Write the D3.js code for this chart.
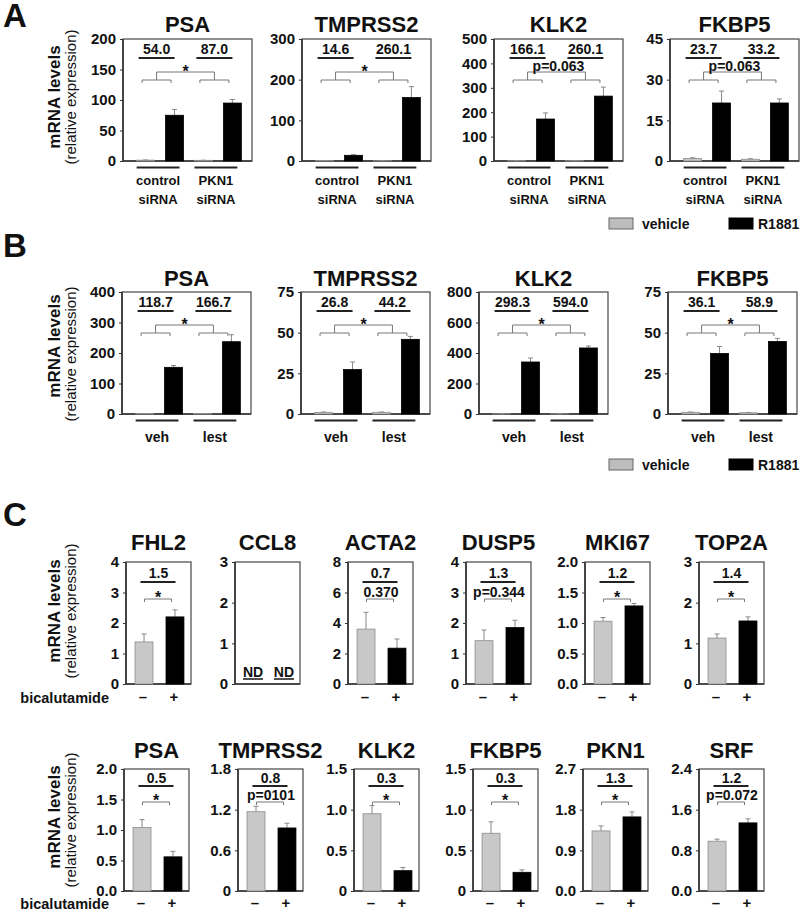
<!DOCTYPE html>
<html><head><meta charset="utf-8">
<script src="https://cdn.jsdelivr.net/npm/d3@7"></script>
<style>body{margin:0;background:#fff} svg{display:block} text{font-family:"Liberation Sans",Arial,Helvetica,sans-serif}</style>
</head><body><svg id="c" width="800" height="910"></svg>
<script>
// ---------- DATA ----------
// Panel A (siRNA)
const genesA = ["PSA","TMPRSS2","KLK2","FKBP5"];
const groupLabelsA = [["control","siRNA"],["PKN1","siRNA"]];
const vehicleA = [[1.39,1.09],[0.96,0.60],[1.04,1.02],[0.90,0.64]];
const vehicleSdA = [[0.2,0.2],[0.1,0.1],[0.2,0.2],[0.3,0.2]];
const r1881A = [[75,95],[14,156],[172,266],[21.4,21.4]];
const r1881SdA = [[9.5,5.8],[1.5,27],[25,37],[4.4,1.5]];
const foldA = [["54.0","87.0"],["14.6","260.1"],["166.1","260.1"],["23.7","33.2"]];
const sigA = ["*","*","p=0.063","p=0.063"];
const yMaxA = [200,300,500,45];
const ticksA = [[0,50,100,150,200],[0,100,200,300],[0,100,200,300,400,500],[0,15,30,45]];
// Panel B (lestaurtinib)
const genesB = ["PSA","TMPRSS2","KLK2","FKBP5"];
const groupLabelsB = [["veh"],["lest"]];
const vehicleB = [[1.29,1.42],[1.02,1.04],[1.14,0.73],[1.03,0.76]];
const vehicleSdB = [[0.2,0.2],[0.2,0.2],[0.3,0.2],[0.2,0.2]];
const r1881B = [[153,237],[27.3,45.9],[341,433],[37.2,44.6]];
const r1881SdB = [[6,23],[4.7,1.8],[26,13],[4.3,1.9]];
const foldB = [["118.7","166.7"],["26.8","44.2"],["298.3","594.0"],["36.1","58.9"]];
const sigB = ["*","*","*","*"];
const yMaxB = [400,75,800,75];
const ticksB = [[0,100,200,300,400],[0,25,50,75],[0,200,400,600,800],[0,25,50,75]];
const legendLabels = ["vehicle","R1881"];
// Panel C row 1 (bicalutamide)
const genesC1 = ["FHL2","CCL8","ACTA2","DUSP5","MKI67","TOP2A"];
const minusC1 = [1.38,null,3.6,1.42,1.03,1.13];
const plusC1 = [2.2,null,2.35,1.85,1.28,1.55];
const minusSdC1 = [0.26,null,1.1,0.35,0.06,0.1];
const plusSdC1 = [0.23,null,0.6,0.24,0.04,0.1];
const foldC1 = ["1.5",null,"0.7","1.3","1.2","1.4"];
const sigC1 = ["*",null,"0.370","p=0.344","*","*"];
const yMaxC1 = [4,3,8,4,2,3];
const tickLabelsC1 = [["0","1","2","3","4"],["0","1","2","3"],["0","2","4","6","8"],["0","1","2","3","4"],["0.0","0.5","1.0","1.5","2.0"],["0","1","2","3"]];
// Panel C row 2
const genesC2 = ["PSA","TMPRSS2","KLK2","FKBP5","PKN1","SRF"];
const minusC2 = [1.04,1.17,0.95,0.71,1.33,0.98];
const plusC2 = [0.56,0.93,0.25,0.23,1.64,1.34];
const minusSdC2 = [0.13,0.08,0.1,0.14,0.11,0.04];
const plusSdC2 = [0.09,0.07,0.04,0.03,0.11,0.08];
const foldC2 = ["0.5","0.8","0.3","0.3","1.3","1.2"];
const sigC2 = ["*","p=0101","*","*","*","p=0.072"];
const yMaxC2 = [2.0,1.8,1.5,1.5,2.7,2.4];
const tickLabelsC2 = [["0.0","0.5","1.0","1.5","2.0"],["0","0.6","1.2","1.8"],["0","0.5","1.0","1.5"],["0","0.5","1.0","1.5"],["0.0","0.9","1.8","2.7"],["0.0","0.8","1.6","2.4"]];
const treatLabels = ["–","+"];

// ---------- STYLE / LAYOUT ----------
const GRAY = "#c8c8c8", GRAYSTROKE = "#8c8c8c", BLACK = "#000";
const svg = d3.select("#c");

function txt(g, x, y, s, size, weight, anchor) {
  return g.append("text").attr("x", x).attr("y", y).text(s)
    .attr("font-size", size).attr("font-weight", weight || "bold")
    .attr("text-anchor", anchor || "middle").attr("fill", "#111");
}
function line(g, x1, y1, x2, y2, color, w) {
  return g.append("line").attr("x1", x1).attr("y1", y1).attr("x2", x2).attr("y2", y2)
    .attr("stroke", color || "#222").attr("stroke-width", w || 1);
}
function yAxis(g, x0, y, ticks, labels) {
  const ax = g.append("g").attr("transform", `translate(${x0},0)`)
    .call(d3.axisLeft(y).tickValues(ticks).tickSize(3).tickPadding(4)
      .tickFormat((d, i) => labels ? labels[i] : d));
  ax.select(".domain").remove();
  ax.selectAll("line").attr("stroke", "#333");
  ax.attr("font-size", 15).attr("font-weight", "bold")
    .attr("font-family", '"Liberation Sans",Arial,sans-serif');
  ax.selectAll("text").attr("fill", "#111");
}
function box(g, x, top, w, h) {
  g.append("rect").attr("x", x).attr("y", top).attr("width", w).attr("height", h)
    .attr("fill", "none").attr("stroke", "#555").attr("stroke-width", 1.3);
  line(g, x, top, x, top + h, "#333", 1.6);
  line(g, x, top + h, x + w, top + h, "#333", 1.6);
}
function errBar(g, cx, y1, y2) {
  line(g, cx, y1, cx, y2, "#888", 1);
  line(g, cx - 2.5, y2, cx + 2.5, y2, "#888", 1);
}
function yLabel(cy1, cy2) {
  svg.append("text").attr("transform", `translate(60,${cy1}) rotate(-90)`)
    .attr("text-anchor", "middle").attr("font-size", 17).attr("font-weight", "bold")
    .attr("fill", "#111").text("mRNA levels");
  svg.append("text").attr("transform", `translate(76,${cy2}) rotate(-90)`)
    .attr("text-anchor", "middle").attr("font-size", 15).attr("font-weight", "normal")
    .attr("fill", "#111").text("(relative expression)");
}
function legend(y) {
  const g = svg.append("g");
  g.append("rect").attr("x", 609).attr("y", y - 11).attr("width", 24).attr("height", 11)
    .attr("fill", "#bdbdbd").attr("stroke", "#666");
  txt(g, 642, y, legendLabels[0], 14, "bold", "start");
  g.append("rect").attr("x", 729).attr("y", y - 11).attr("width", 24).attr("height", 11)
    .attr("fill", BLACK).attr("stroke", "#000");
  txt(g, 758, y, legendLabels[1], 14, "bold", "start");
}

// Panels A and B
function drawAB(P) {
  P.genes.forEach((gene, i) => {
    const g = svg.append("g");
    const x0 = P.xs[i], W = 129, top = P.top, bottom = P.bottom;
    const xb = d3.scaleBand().domain(["v0","r0","v1","r1"])
      .range([x0 + 1.5, x0 + W + 1.5]).paddingInner(0.38).paddingOuter(0.42);
    const bw = xb.bandwidth();
    const y = d3.scaleLinear().domain([0, P.yMax[i]]).range([bottom, top]);
    box(g, x0, top, W, bottom - top);
    yAxis(g, x0, y, P.ticks[i]);
    txt(g, x0 + W / 2, P.titleY, gene, 22);
    const bars = [];
    [0, 1].forEach(j => {
      bars.push({k: "v" + j, v: P.veh[i][j], sd: P.vehSd[i][j], fill: GRAY, st: GRAYSTROKE});
      bars.push({k: "r" + j, v: P.r[i][j], sd: P.rSd[i][j], fill: BLACK, st: BLACK});
    });
    bars.forEach(b => errBar(g, xb(b.k) + bw / 2, y(b.v), y(b.v + b.sd)));
    g.selectAll("rect.bar").data(bars).join("rect").attr("class", "bar")
      .attr("x", d => xb(d.k)).attr("width", bw)
      .attr("y", d => y(d.v)).attr("height", d => bottom - y(d.v))
      .attr("fill", d => d.fill).attr("stroke", d => d.st).attr("stroke-width", 0.8);
    const centers = [];
    [0, 1].forEach(j => {
      const a = xb("v" + j), b = xb("r" + j) + bw - 4;
      const ac = (a + b) / 2;
      line(g, a, bottom + 6.5, b, bottom + 6.5, "#222", 2);
      P.groups[j].forEach((s, k) => txt(g, ac, bottom + P.glY[k], s, P.glSize, "bold"));
      const c = ac - 1.5;
      centers.push(c);
      txt(g, c, top + 14.5, P.fold[i][j], 14);
      line(g, c - 18, top + 19, c + 18, top + 19, "#222", 2);
      const ly = top + 41;
      line(g, c - 14.5, ly, c + 14.5, ly, "#777", 1);
      line(g, c - 14.5, ly, c - 14.5, ly + 3, "#777", 1);
      line(g, c + 14.5, ly, c + 14.5, ly + 3, "#777", 1);
      line(g, c, top + 33, c, ly, "#777", 1);
    });
    line(g, centers[0], top + 33, centers[1], top + 33, "#777", 1);
    const mid = (centers[0] + centers[1]) / 2;
    if (P.sig[i] === "*") txt(g, mid, top + 38, "*", 16);
    else txt(g, mid + 2, top + 32, P.sig[i], 14);
  });
}

// Panel C rows
function drawC(P) {
  P.genes.forEach((gene, i) => {
    const g = svg.append("g");
    const x0 = P.xs[i], W = 65, top = P.top, bottom = P.bottom;
    const xb = d3.scaleBand().domain(["m","p"]).range([x0 + 1, x0 + W + 1])
      .paddingInner(0.42).paddingOuter(0.26);
    const bw = xb.bandwidth();
    const labels = P.tickLabels[i];
    const ticks = labels.map(Number);
    const y = d3.scaleLinear().domain([0, P.yMax[i]]).range([bottom, top]);
    box(g, x0, top, W, bottom - top);
    yAxis(g, x0, y, ticks, labels);
    txt(g, x0 + W / 2, P.titleY, gene, 22);
    const cm = xb("m") + bw / 2, cp = xb("p") + bw / 2;
    if (P.minus[i] === null) {
      [cm, cp].forEach(cx => {
        txt(g, cx, bottom - 7, "ND", 14);
        line(g, cx - 10, bottom - 5, cx + 10, bottom - 5, "#222", 1.6);
      });
      return;
    }
    const bars = [
      {k: "m", v: P.minus[i], sd: P.minusSd[i], fill: GRAY, st: GRAYSTROKE},
      {k: "p", v: P.plus[i], sd: P.plusSd[i], fill: BLACK, st: BLACK}
    ];
    bars.forEach(b => errBar(g, xb(b.k) + bw / 2, y(b.v), y(b.v + b.sd)));
    g.selectAll("rect.bar").data(bars).join("rect").attr("class", "bar")
      .attr("x", d => xb(d.k)).attr("width", bw)
      .attr("y", d => y(d.v)).attr("height", d => bottom - y(d.v))
      .attr("fill", d => d.fill).attr("stroke", d => d.st).attr("stroke-width", 0.8);
    const mid = (cm + cp) / 2 - 1.5;
    txt(g, mid + 0.5, top + P.off.fold, P.fold[i], 14);
    line(g, mid - 17.5, top + P.off.line, mid + 17.5, top + P.off.line, "#222", 2);
    const by = top + P.off.bracket;
    line(g, mid - 13.5, by, mid + 13.5, by, "#777", 1);
    line(g, mid - 13.5, by, mid - 13.5, by + 3, "#777", 1);
    line(g, mid + 13.5, by, mid + 13.5, by + 3, "#777", 1);
    if (P.sig[i] === "*") txt(g, mid, by + 4, "*", 16);
    else txt(g, mid + 1, top + P.off.p, P.sig[i], 14);
    txt(g, cm - 1, bottom + P.treatY, treatLabels[0], 15);
    txt(g, cp - 1, bottom + P.treatY, treatLabels[1], 15);
  });
  txt(svg, 109, P.bottom + P.treatY + 0.5, "bicalutamide", 14.5, "bold", "end");
}

// panel letters
txt(svg, 3, 27, "A", 33, "bold", "start");
txt(svg, 3, 257, "B", 33, "bold", "start");
txt(svg, 3, 526, "C", 33, "bold", "start");

drawAB({genes: genesA, groups: groupLabelsA, veh: vehicleA, vehSd: vehicleSdA, r: r1881A, rSd: r1881SdA,
  fold: foldA, sig: sigA, yMax: yMaxA, ticks: ticksA, xs: [123, 302, 494, 670],
  top: 39, bottom: 161, titleY: 32, glY: [24, 43], glSize: 13});
yLabel(97, 97);
legend(229);

drawAB({genes: genesB, groups: groupLabelsB, veh: vehicleB, vehSd: vehicleSdB, r: r1881B, rSd: r1881SdB,
  fold: foldB, sig: sigB, yMax: yMaxB, ticks: ticksB, xs: [122, 301, 479, 668],
  top: 292, bottom: 414, titleY: 286, glY: [28], glSize: 14});
yLabel(346, 354);
legend(470);

drawC({genes: genesC1, minus: minusC1, plus: plusC1, minusSd: minusSdC1, plusSd: plusSdC1,
  fold: foldC1, sig: sigC1, yMax: yMaxC1, tickLabels: tickLabelsC1,
  xs: [126, 235, 348, 466, 585, 699], top: 562, bottom: 684, titleY: 550,
  off: {fold: 16, line: 20, bracket: 37, p: 35}, treatY: 18});
yLabel(611, 611);

drawC({genes: genesC2, minus: minusC2, plus: plusC2, minusSd: minusSdC2, plusSd: plusSdC2,
  fold: foldC2, sig: sigC2, yMax: yMaxC2, tickLabels: tickLabelsC2,
  xs: [124, 238, 354, 473, 583, 699], top: 769, bottom: 891, titleY: 758,
  off: {fold: 14, line: 17, bracket: 33, p: 31}, treatY: 17});
yLabel(817, 820);
</script></body></html>
